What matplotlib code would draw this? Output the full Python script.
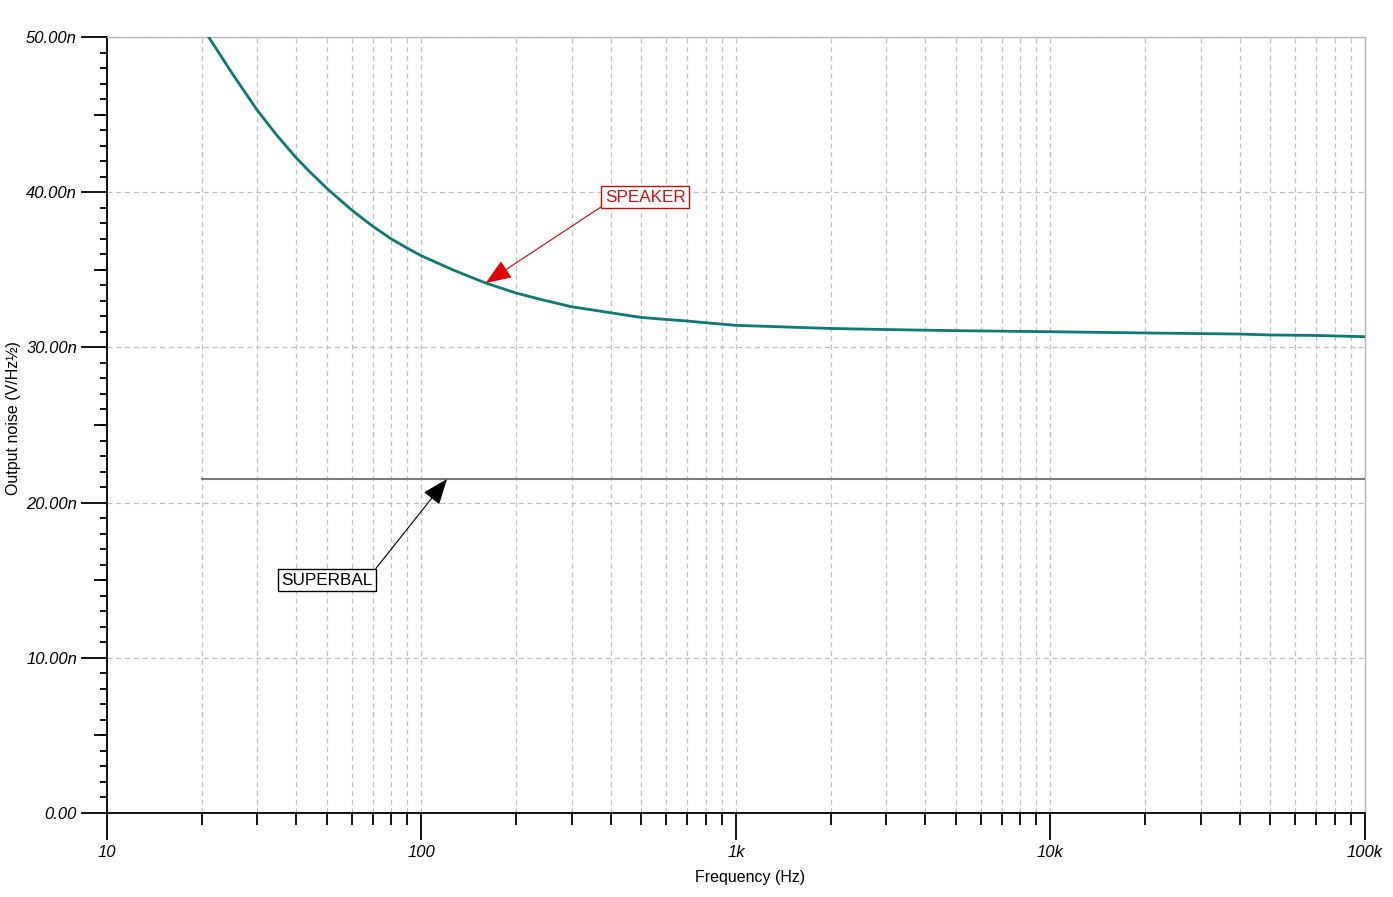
import matplotlib
matplotlib.use("Agg")
import matplotlib.pyplot as plt
from matplotlib.ticker import FixedLocator, NullFormatter

# ---- data (noise in nV/sqrt(Hz)) ----
speaker_freq = [20, 25.2, 30, 34.6, 40, 44.2, 50, 60, 70, 80, 90, 100, 126, 160, 200, 244, 300,
                400, 500, 600, 700, 800, 900, 1000, 2000, 3000, 5000, 10000, 20000, 40000,
                50000, 70000, 100000]
speaker_noise = [50.7, 47.55, 45.3, 43.69, 42.2, 41.3, 40.25, 38.85, 37.8, 37.0, 36.4, 35.9,
                 34.99, 34.15, 33.5, 33.05, 32.62, 32.23, 31.93, 31.8, 31.7, 31.59, 31.5, 31.42,
                 31.22, 31.15, 31.08, 31.01, 30.93, 30.86, 30.8, 30.77, 30.69]
superbal_freq = [20, 100000]
superbal_noise = [21.52, 21.52]

x_ticks = [10, 100, 1000, 10000, 100000]
x_ticklabels = ["10", "100", "1k", "10k", "100k"]
y_ticks = [0, 10, 20, 30, 40, 50]
y_ticklabels = ["0.00", "10.00n", "20.00n", "30.00n", "40.00n", "50.00n"]

plt.rcParams['font.family'] = ['Liberation Sans', 'DejaVu Sans']

W, H = 1393, 897
PT = 0.72  # points per pixel at dpi 100
fig = plt.figure(figsize=(W / 100, H / 100), dpi=100)
ax = fig.add_axes([107 / W, 1 - 813 / H, (1365 - 107) / W, (813 - 37) / H])

ax.set_xscale('log')
ax.set_xlim(10, 100000)
ax.set_ylim(0, 50)

ax.plot(speaker_freq, speaker_noise, color='#0b7a78', lw=2.0, solid_joinstyle='round',
        solid_capstyle='round', zorder=3)
ax.plot(superbal_freq, superbal_noise, color='#7a7a7a', lw=1.5, zorder=3)

# ticks
ax.xaxis.set_major_locator(FixedLocator(x_ticks))
ax.set_xticklabels(x_ticklabels, fontsize=12, style='italic')
minor_x = [m * 10 ** d for d in range(1, 5) for m in range(2, 10)]
ax.xaxis.set_minor_locator(FixedLocator(minor_x))
ax.xaxis.set_minor_formatter(NullFormatter())
ax.yaxis.set_major_locator(FixedLocator(y_ticks))
ax.set_yticklabels(y_ticklabels, fontsize=12, style='italic')
ax.yaxis.set_minor_locator(FixedLocator([v for v in range(0, 51) if v % 10 != 0]))

ax.tick_params(axis='x', which='major', direction='out', length=27 * PT, width=1.3, pad=5 * PT)
ax.tick_params(axis='x', which='minor', direction='out', length=12 * PT, width=1.3)
ax.tick_params(axis='y', which='major', direction='out', length=26 * PT, width=1.3, pad=4 * PT)
ax.tick_params(axis='y', which='minor', direction='out', length=7 * PT, width=1.3)

# mid ticks at 5n
sec = ax.secondary_yaxis('left')
sec.yaxis.set_major_locator(FixedLocator([5, 15, 25, 35, 45]))
sec.yaxis.set_major_formatter(NullFormatter())
sec.tick_params(axis='y', which='major', direction='out', length=13 * PT, width=1.3)
sec.yaxis.set_minor_locator(FixedLocator([]))
sec.spines['left'].set_visible(False)

# grid
ax.grid(True, which='major', axis='y', color='#c0c0c0', ls=(0, (4, 3)), lw=0.9)
ax.grid(True, which='both', axis='x', color='#c0c0c0', ls=(0, (4, 3)), lw=0.9)
ax.set_axisbelow(True)

for s in ['left', 'bottom']:
    ax.spines[s].set_color('black')
    ax.spines[s].set_linewidth(1.3)
for s in ['top', 'right']:
    ax.spines[s].set_color('#b8b8b8')
    ax.spines[s].set_linewidth(1.0)

# annotations
ax.annotate('SPEAKER', xy=(160, 34.15), xytext=(514, 39.69), fontsize=12.3, color='#d01010',
            ha='center', va='center',
            bbox=dict(boxstyle='square,pad=0.2', fc='white', ec='#c01010', lw=1.0),
            arrowprops=dict(arrowstyle='-|>,head_length=0.9,head_width=0.35', color='#e00000',
                            lw=0.8, relpos=(0, 0), shrinkA=0, shrinkB=0, mutation_scale=18),
            zorder=5)
ax.annotate('SUPERBAL', xy=(120.5, 21.52), xytext=(50.07, 15.01), fontsize=12.3, color='black',
            ha='center', va='center',
            bbox=dict(boxstyle='square,pad=0.2', fc='white', ec='black', lw=1.0),
            arrowprops=dict(arrowstyle='-|>,head_length=0.9,head_width=0.35', color='black',
                            lw=0.8, relpos=(1, 1), shrinkA=0, shrinkB=0, mutation_scale=18),
            zorder=5)

fig.text(14 / W, 1 - 418 / H, 'Output noise (V/Hz½)', rotation=90, ha='center', va='center',
         fontsize=11.5)
fig.text(750 / W, 1 - 877 / H, 'Frequency (Hz)', ha='center', va='center', fontsize=11.5)

fig.savefig('out.png', dpi=100)
